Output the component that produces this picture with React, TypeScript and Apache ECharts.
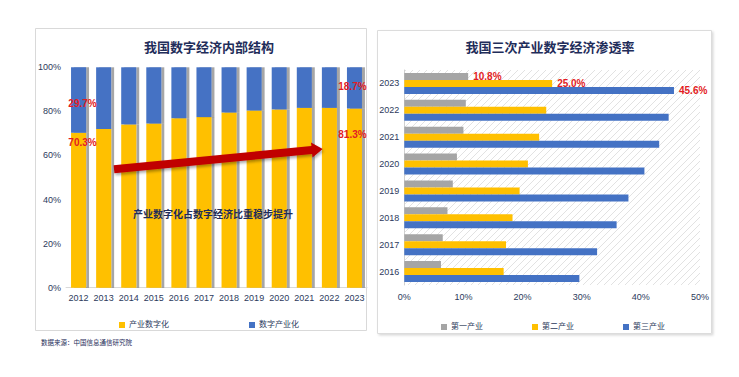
import React, { useEffect, useRef } from "react";
import * as echarts from "echarts";

// Left chart: 我国数字经济内部结构
const years = ["2012", "2013", "2014", "2015", "2016", "2017", "2018", "2019", "2020", "2021", "2022", "2023"];
const industryDigitization = [70.3, 72.0, 74.1, 74.5, 76.9, 77.4, 79.5, 80.4, 80.9, 81.6, 81.6, 81.3];
const digitalIndustrialization = [29.7, 28.0, 25.9, 25.5, 23.1, 22.6, 20.5, 19.6, 19.1, 18.4, 18.4, 18.7];

// Right chart: 我国三次产业数字经济渗透率
const penYears = ["2016", "2017", "2018", "2019", "2020", "2021", "2022", "2023"];
const primaryInd = [6.2, 6.5, 7.3, 8.2, 8.9, 10.0, 10.4, 10.8];
const secondaryInd = [16.8, 17.2, 18.3, 19.5, 20.9, 22.8, 24.0, 25.0];
const tertiaryInd = [29.6, 32.6, 35.9, 37.9, 40.6, 43.1, 44.7, 45.6];

const FONT = "'Liberation Sans', 'Noto Sans CJK SC', sans-serif";
const NAVY = "#1f2d5a";
const AXIS_TXT = "#2c3a5c";
const RED = "#e31c23";
const YELLOW = "#FFC000";
const BLUE = "#4472C4";
const GRAY = "#A5A5A5";

export default function App() {
  const ref = useRef<HTMLDivElement>(null);
  useEffect(() => {
    if (!ref.current) return;
    const chart = echarts.init(ref.current, undefined, { renderer: "svg" });

    const c = document.createElement("canvas");
    c.width = 7;
    c.height = 7;
    const ctx = c.getContext("2d")!;
    ctx.strokeStyle = "#e2e2e2";
    ctx.lineWidth = 1;
    ctx.beginPath();
    ctx.moveTo(0, 7); ctx.lineTo(7, 0);
    ctx.moveTo(-1, 1); ctx.lineTo(1, -1);
    ctx.moveTo(6, 8); ctx.lineTo(8, 6);
    ctx.stroke();
    const hatchUrl = c.toDataURL("image/png");

    const last = years.length - 1;
    const barShadow = { shadowColor: "rgba(0,0,0,0.35)", shadowOffsetX: 3, shadowBlur: 1 };
    const lblStyle = { color: RED, fontSize: 10, fontWeight: "bold", fontFamily: FONT };
    const pct = (p: any) => Number(p.value).toFixed(1) + "%";

    const yellowData = industryDigitization.map((v, i) => {
      if (i === 0) return { value: v, label: { show: true, position: "insideTop", offset: [4, 0], formatter: pct, ...lblStyle } };
      if (i === last) return { value: v, label: { show: true, position: "insideTop", offset: [-2, 16], formatter: pct, ...lblStyle } };
      return v;
    });
    const blueData = digitalIndustrialization.map((v, i) => {
      if (i === 0) return { value: v, label: { show: true, position: "inside", offset: [4, 3], formatter: pct, ...lblStyle } };
      if (i === last) return { value: v, label: { show: true, position: "inside", offset: [-2, -1], formatter: pct, ...lblStyle } };
      return v;
    });
    const pLast = penYears.length - 1;
    const rightData = (arr: number[]) =>
      arr.map((v, i) =>
        i === pLast
          ? { value: v, label: { show: true, position: "right", distance: 5, formatter: pct, ...lblStyle } }
          : v
      );

    const option: any = {
      animation: false,
      backgroundColor: "#ffffff",
      textStyle: { fontFamily: FONT },
      title: [
        { text: "我国数字经济内部结构", left: 204, top: 36, textAlign: "center", textStyle: { fontSize: 13, fontWeight: "bold", color: NAVY, fontFamily: FONT } },
        { text: "我国三次产业数字经济渗透率", left: 545, top: 36, textAlign: "center", textStyle: { fontSize: 13, fontWeight: "bold", color: NAVY, fontFamily: FONT } },
      ],
      legend: [
        {
          data: ["产业数字化", "数字产业化"],
          left: 114, top: 316, itemWidth: 6, itemHeight: 6, itemGap: 80, icon: "rect",
          textStyle: { fontSize: 8, color: AXIS_TXT, fontFamily: FONT, padding: [0, 0, 0, -1] },
        },
        {
          data: ["第一产业", "第二产业", "第三产业"],
          left: 436, top: 318, itemWidth: 6, itemHeight: 6, itemGap: 49, icon: "rect",
          textStyle: { fontSize: 8, color: AXIS_TXT, fontFamily: FONT, padding: [0, 0, 0, -1] },
        },
      ],
      grid: [
        { left: 66, width: 301, top: 67.3, height: 220.4 },
        {
          left: 404.3, width: 295.7, top: 70, height: 215, show: true, borderWidth: 0,
          backgroundColor: { image: hatchUrl, repeat: "repeat" },
        },
      ],
      xAxis: [
        {
          gridIndex: 0, type: "category", data: years,
          axisLine: { show: true, lineStyle: { color: "#d9d9d9" } }, axisTick: { show: false },
          axisLabel: { fontSize: 9, color: AXIS_TXT, margin: 6, fontFamily: FONT, interval: 0, hideOverlap: false },
        },
        {
          gridIndex: 1, type: "value", min: 0, max: 50, interval: 10,
          axisLine: { show: false }, axisTick: { show: false }, splitLine: { show: false },
          axisLabel: { fontSize: 9, color: AXIS_TXT, margin: 7, formatter: "{value}%", fontFamily: FONT },
        },
      ],
      yAxis: [
        {
          gridIndex: 0, type: "value", min: 0, max: 100, interval: 20,
          axisLine: { show: false }, axisTick: { show: false }, splitLine: { show: false },
          axisLabel: { fontSize: 9, color: AXIS_TXT, margin: 5, formatter: "{value}%", fontFamily: FONT },
        },
        {
          gridIndex: 1, type: "category", data: penYears,
          axisLine: { show: true, lineStyle: { color: "#d0d0d0" } }, axisTick: { show: false },
          axisLabel: { fontSize: 9, color: AXIS_TXT, margin: 5, fontFamily: FONT },
        },
      ],
      series: [
        {
          name: "产业数字化", type: "bar", stack: "a", xAxisIndex: 0, yAxisIndex: 0, barWidth: 15,
          itemStyle: { color: YELLOW, ...barShadow }, data: yellowData,
        },
        {
          name: "数字产业化", type: "bar", stack: "a", xAxisIndex: 0, yAxisIndex: 0, barWidth: 15,
          itemStyle: { color: BLUE, ...barShadow }, data: blueData,
        },
        {
          name: "第一产业", type: "bar", xAxisIndex: 1, yAxisIndex: 1, barWidth: 7, barGap: "0%",
          itemStyle: { color: GRAY }, data: rightData(primaryInd),
        },
        {
          name: "第二产业", type: "bar", xAxisIndex: 1, yAxisIndex: 1, barWidth: 7, barGap: "0%",
          itemStyle: { color: YELLOW }, data: rightData(secondaryInd),
        },
        {
          name: "第三产业", type: "bar", xAxisIndex: 1, yAxisIndex: 1, barWidth: 7, barGap: "0%",
          itemStyle: { color: BLUE }, data: rightData(tertiaryInd),
        },
      ],
      graphic: [
        {
          type: "rect", z: -10, silent: true,
          shape: { x: 35.5, y: 28.5, width: 331, height: 302 },
          style: { fill: "#fff", stroke: "#d9d9d9", lineWidth: 1 },
        },
        {
          type: "rect", z: -10, silent: true,
          shape: { x: 377.5, y: 30.5, width: 334, height: 303 },
          style: { fill: "#fff", stroke: "#dcdcdc", lineWidth: 1, shadowColor: "rgba(0,0,0,0.15)", shadowBlur: 2, shadowOffsetX: 1.5, shadowOffsetY: 1.5 },
        },
        {
          type: "polygon", z: 100,
          shape: {
            points: [
              [114.4, 173.3], [113.6, 165.3], [311.4, 146.1], [311.0, 142.6],
              [322.7, 149.0], [312.5, 157.5], [312.1, 154.0],
            ],
          },
          style: { fill: "#c00000", shadowColor: "rgba(0,0,0,0.35)", shadowBlur: 3, shadowOffsetX: 1, shadowOffsetY: 2 },
        },
        {
          type: "text", z: 100, x: 213, y: 213,
          style: {
            text: "产业数字化占数字经济比重稳步提升", fill: NAVY,
            font: "bold 10px 'Noto Sans CJK SC', sans-serif",
            align: "center", verticalAlign: "middle", textAlign: "center", textVerticalAlign: "middle",
          },
        },
        {
          type: "text", z: 100, x: 41, y: 342,
          style: {
            text: "数据来源：中国信息通信研究院", fill: NAVY,
            font: "6.5px 'Noto Sans CJK SC', sans-serif",
            align: "left", verticalAlign: "middle", textAlign: "left", textVerticalAlign: "middle",
          },
        },
      ],
    };
    chart.setOption(option);
    return () => chart.dispose();
  }, []);

  return (
    <div
      ref={ref}
      style={{ position: "fixed", left: 0, top: 0, width: 739, height: 377, background: "#fff" }}
    />
  );
}
